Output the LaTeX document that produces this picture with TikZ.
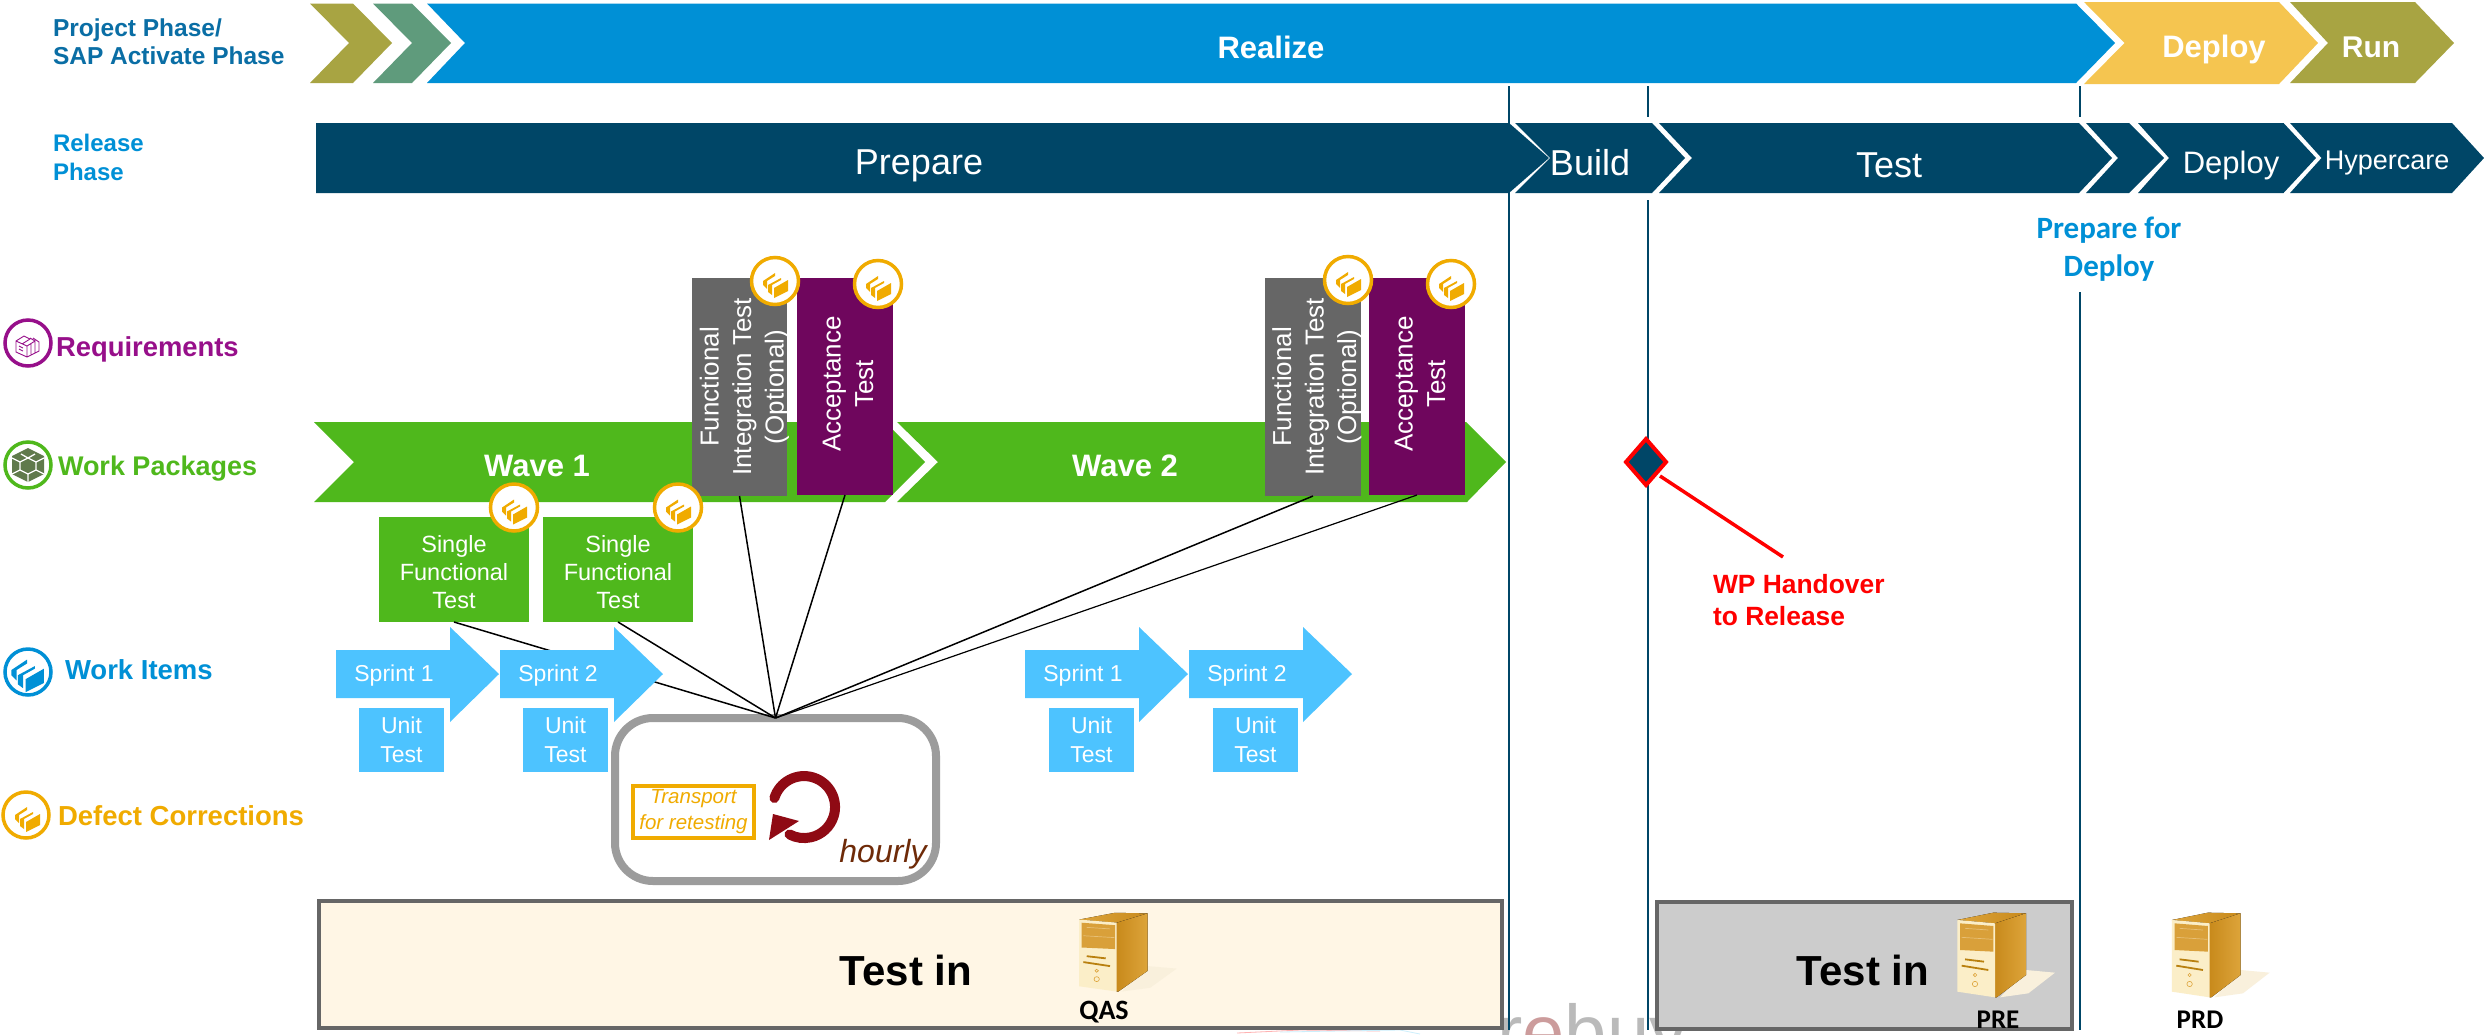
\documentclass[tikz,border=0pt]{standalone}
\usepackage{fontspec}
\usetikzlibrary{shapes.geometric}
\setmainfont{Liberation Sans}
\newfontfamily\carl{Carlito}
\definecolor{cBlue}{HTML}{0090D6}
\definecolor{cPhase}{HTML}{0A6EA5}
\definecolor{cYellow}{HTML}{F5C550}
\definecolor{cOlive}{HTML}{A8A442}
\definecolor{cTeal}{HTML}{5F9B7C}
\definecolor{cNavy}{HTML}{004667}
\definecolor{cGreen}{HTML}{4FB81C}
\definecolor{cPurple}{HTML}{6F065D}
\definecolor{cReq}{HTML}{970F8A}
\definecolor{cGrey}{HTML}{666666}
\definecolor{cSprint}{HTML}{4DC3FF}
\definecolor{cOrange}{HTML}{F0AB00}
\definecolor{cLoop}{HTML}{8F0A14}
\definecolor{cHourly}{HTML}{6E2A08}
\definecolor{cCream}{HTML}{FFF6E5}
\definecolor{cWP}{HTML}{607A4C}
\definecolor{cFront}{HTML}{FBEEC8}
\definecolor{cShadow}{HTML}{F9F0DC}
\definecolor{cGoldA}{HTML}{C88A1C}
\definecolor{cGoldB}{HTML}{DDA43A}
\definecolor{cGoldC}{HTML}{D9A03A}
\definecolor{cGoldD}{HTML}{B9800F}
\newcommand\fs[2]{\fontsize{#1}{#2}\selectfont}
\tikzset{
  lab/.style={inner sep=0pt,outer sep=0pt,align=center},
  lableft/.style={inner sep=0pt,outer sep=0pt,anchor=west,align=left},
  boxy/.style={inner sep=0pt,outer sep=0pt,draw=none,text=white,align=center},
  wlink/.style={draw=black,line width=1.5pt},
  vline/.style={draw=cNavy,line width=2pt},
  ring/.style={circle,fill=white,inner sep=0pt,outer sep=0pt,minimum size=46pt,line width=3.5pt},
  pics/sheets/.style={code={
    \fill[#1] (-1,7)--(13,-1)--(13,10)--(-1,17)--cycle;
    \fill[#1] (-7,4)--(6,-3)--(6,-1)--(-3,4)--(-3,14)--(-7,11)--cycle;
    \fill[#1] (-12,0)--(0,-8)--(0,-5)--(-8,0)--(-8,8)--(-12,4)--cycle;
  }},
  pics/server/.style={code={
    \fill[cShadow] (258,210)--(345,218)--(265,280)--(180,292)--cycle;
    \fill[left color=cGoldB,right color=cGoldA] (52,60)--(160,38)--(258,40)--(165,70)--cycle;
    \fill[left color=cGoldA,right color=cGoldB] (165,70)--(258,40)--(258,225)--(170,292)--(165,292)--cycle;
    \fill[cFront] (52,60)--(165,70)--(165,292)--(52,275)--cycle;
    \fill[cGoldC] (60,70)--(160,78)--(160,155)--(60,150)--cycle;
    \draw[cGoldB!70!white,line width=.7pt] (75,85)--(145,90) (65,112)--(158,118);
    \draw[cGoldD,line width=1.8pt] (75,178)--(132,185) (65,197)--(145,210);
    \draw[cGoldB,line width=.6pt] (105,225) circle[radius=5] (105,252) circle[radius=8];
  }}
}
\begin{document}
\begin{tikzpicture}[x=1pt,y=-1pt]
\useasboundingbox (0,0) rectangle (2484,1034);
\fill[white] (0,0) rectangle (2484,1034);
% watermark cut off by the lower edge
\begin{scope}
\clip (0,0) rectangle (2484,1034);
\node[inner sep=0pt,anchor=base west,text=black!27] (mark) at (1497,1058) {\fs{76}{80}r\textcolor[HTML]{CC9C9C}{e}buy};
\draw[red!30,line width=.8pt] (1237,1033)--(1300,1030)--(1380,1031);
\draw[cyan!20,line width=.8pt] (1280,1032)--(1400,1030)--(1420,1034);
\end{scope}
% vertical phase lines
\coordinate (v1a) at (1508.5,86); \coordinate (v1b) at (1508.5,1030);
\coordinate (v2a) at (1647.5,86); \coordinate (v2b) at (1647.5,117);
\coordinate (v2c) at (1647.5,200); \coordinate (v2d) at (1647.5,1030);
\coordinate (v3a) at (2080,86); \coordinate (v3b) at (2080,117);
\coordinate (v3c) at (2080,292); \coordinate (v3d) at (2080,1030);
\draw[vline] (v1a)--(v1b);
\draw[vline] (v2a)--(v2b);
\draw[vline] (v2c)--(v2d);
\draw[vline] (v3a)--(v3b);
\draw[vline] (v3c)--(v3d);
% project phase chevrons
\fill[cOlive] (310,3.5)--(353,3.5)--(392,43)--(353,83)--(310,83)--(349,43)--cycle;
\fill[cTeal] (373,3.5)--(412,3.5)--(451,43)--(412,83)--(373,83)--(412,43)--cycle;
\fill[cBlue] (427,3.5)--(2076,3.5)--(2115,43)--(2076,83)--(427,83)--(465,43)--cycle;
\fill[cYellow] (2084,2)--(2279,2)--(2318,43)--(2279,84)--(2084,84)--(2124.5,43)--cycle;
\fill[cOlive] (2290,2)--(2415,2)--(2454,43)--(2415,83)--(2290,83)--(2328,43)--cycle;
\node[lab,text=white,font=\bfseries\fs{31}{36}] (realize) at (1271,47) {Realize};
\node[lab,text=white,font=\bfseries\fs{31}{36}] (pdeploy) at (2214,49) {Deploy};
\node[lab,text=white,font=\bfseries\fs{30}{36}] (prun) at (2371,47) {Run};
% release chevrons
\fill[cNavy] (316,123)--(1509,123)--(1549,158)--(1509,193)--(316,193)--cycle;
\fill[cNavy] (1515,123)--(1652,123)--(1685,158)--(1652,193)--(1515,193)--(1550,158)--cycle;
\fill[cNavy] (1659,123)--(2079,123)--(2112,158)--(2079,193)--(1659,193)--(1692,158)--cycle;
\fill[cNavy] (2086,123)--(2129,123)--(2164,158)--(2129,193)--(2086,193)--(2118,158)--cycle;
\fill[cNavy] (2138,123)--(2283.5,123)--(2316,158)--(2283.5,193)--(2138,193)--(2169,158)--cycle;
\fill[cNavy] (2290,123)--(2452,123)--(2484,158)--(2452,193)--(2290,193)--(2321.5,158)--cycle;
\node[lab,text=white,font=\fs{36}{40}] (rprep) at (919,166) {Prepare};
\node[lab,text=white,font=\fs{36}{40}] (rbuild) at (1590,163) {Build};
\node[lab,text=white,font=\fs{36}{40}] (rtest) at (1889,165) {Test};
\node[lab,text=white,font=\fs{31}{36}] (rdeploy) at (2231,165) {Deploy};
\node[lab,text=white,font=\fs{27}{32}] (rhyper) at (2387,163) {Hypercare};
% left labels
\node[lableft,text=cPhase,font=\bfseries\fs{24.5}{28}] (lproj) at (53,42) {Project Phase/\\SAP Activate Phase};
\node[lableft,text=cBlue,font=\bfseries\fs{24}{29}] (lrel) at (53,157.5) {Release\\Phase};
\node[lab,text=cBlue,font=\carl\bfseries\fs{31}{38}] (lprep) at (2109,249.5) {Prepare for\\Deploy};
\node[ring,draw=cReq] (ireq) at (28,343) {};
\draw[cReq,line width=.9pt,line join=round,shift={(28,343)}]
  (-12,-2)--(-1,3)--(-1,14)--(-12,9)--cycle
  (-12,-2)--(-4,-7)--(2,-4)--(-6,1)
  (-1,3)--(7,-2)--(2,-5)
  (-1,14)--(11,8)--(11,-1)--(5,-5)
  (3,0)--(3,11) (7,-2)--(7,10)
  (-9,3)--(-5,5) (-9,6)--(-5,8);
\node[lableft,text=cReq,font=\bfseries\fs{27.4}{32}] (lreq) at (56,349) {Requirements};
\node[ring,draw=cGreen] (iwp) at (28,465) {};
\fill[cWP,shift={(28,465)}] (0,-17)--(16,-9)--(16,9)--(0,17)--(-16,9)--(-16,-9)--cycle;
\draw[white,line width=1.3pt,shift={(28,465)}] (0,-7)--(8,-3)--(8,5)--(0,9)--(-8,5)--(-8,-3)--cycle (0,-7)--(-7,-11) (0,-7)--(7,-11) (8,5)--(16,9) (-8,5)--(-16,9) (0,9)--(0,17) (8,-3)--(16,-7) (-8,-3)--(-16,-7);
\node[lableft,text=cGreen,font=\bfseries\fs{27}{32}] (lwp) at (58,469) {Work Packages};
\node[ring,draw=cBlue] (iwi) at (28,672) {};
\pic[scale=1.3] at (27,670) {sheets=cBlue};
\node[lableft,text=cBlue,font=\bfseries\fs{27.5}{32}] (lwi) at (65,670) {Work Items};
\node[ring,draw=cOrange] (idc) at (26,815) {};
\pic at (27,815) {sheets=cOrange};
\node[lableft,text=cOrange,font=\bfseries\fs{27.5}{32}] (ldc) at (58,816) {Defect Corrections};
% waves
\fill[cGreen] (314,422)--(885,422)--(925,462)--(885,502)--(314,502)--(354,462)--cycle;
\fill[cGreen] (897,422)--(1466,422)--(1506,462)--(1467,502)--(897,502)--(938,462)--cycle;
\node[lab,text=white,font=\bfseries\fs{31}{36}] (w1) at (537,466) {Wave 1};
\node[lab,text=white,font=\bfseries\fs{31}{36}] (w2) at (1125,466) {Wave 2};
% integration and acceptance boxes
\node[boxy,fill=cGrey,minimum width=95pt,minimum height=218pt] (fit1) at (739.5,387) {};
\node[boxy,fill=cPurple,minimum width=96pt,minimum height=217pt] (acc1) at (845,386.5) {};
\node[boxy,fill=cGrey,minimum width=96pt,minimum height=218pt] (fit2) at (1313,387) {};
\node[boxy,fill=cPurple,minimum width=96pt,minimum height=217pt] (acc2) at (1417,386.5) {};
\node[lab,text=white,rotate=90,font=\fs{26}{32.5}] (fit1t) at (744.5,387) {Functional\\Integration Test\\(Optional)};
\node[lab,text=white,rotate=90,font=\fs{26}{32.5}] (acc1t) at (848,384) {Acceptance\\Test};
\node[lab,text=white,rotate=90,font=\fs{26}{32.5}] (fit2t) at (1317,387) {Functional\\Integration Test\\(Optional)};
\node[lab,text=white,rotate=90,font=\fs{26}{32.5}] (acc2t) at (1420,384) {Acceptance\\Test};
% single functional tests
\node[boxy,fill=cGreen,minimum width=150pt,minimum height=105pt] (sft1) at (454,569.5) {};
\node[boxy,fill=cGreen,minimum width=150pt,minimum height=105pt] (sft2) at (618,569.5) {};
\node[lab,text=white,font=\fs{23.5}{28}] (sft1t) at (454,572) {Single\\Functional\\Test};
\node[lab,text=white,font=\fs{23.5}{28}] (sft2t) at (618,572) {Single\\Functional\\Test};
% orange badges
\foreach \n/\x/\y in {bf1/775/281,ba1/878/284,bf2/1348/280,ba2/1451/284,bs1/514/507.5,bs2/678/507.5}{
  \node[ring,draw=cOrange,minimum size=47pt] (\n) at (\x,\y) {};
  \pic at (\x,\y) {sheets=cOrange};
}
% transport loop box
\node[draw=black!39,fill=white,line width=8pt,rounded corners=38pt,minimum width=321pt,minimum height=163pt,inner sep=0pt,outer sep=0pt] (loop) at (775.5,799.5) {};
\node[draw=cOrange,line width=3.5pt,minimum width=121pt,minimum height=52pt,inner sep=0pt,outer sep=0pt,text=cOrange,align=center,font=\itshape\fs{20.5}{26}] (transp) at (693.5,812) {Transport\\for retesting};
\coordinate (arcstart) at (774.4,798);
\draw[cLoop,line width=10pt,line cap=round] (arcstart) arc[start angle=163,end angle=-118,radius=31pt];
\fill[cLoop] (773,814)--(799,821)--(769,840)--cycle;
\node[lab,text=cHourly,font=\itshape\fs{32}{36}] (hourly) at (883,854.5) {hourly};
% links to the loop box
\draw[wlink] (sft1.south)--(loop.north);
\draw[wlink] (sft2.south)--(loop.north);
\draw[wlink] (fit1.south)--(loop.north);
\draw[wlink] (acc1.south)--(loop.north);
\draw[wlink] (fit2.south)--(loop.north);
\draw[wlink,line width=1.2pt] (acc2.south)--(loop.north);
% sprints
\foreach \x/\n/\t in {336/s11/Sprint 1,500/s12/Sprint 2,1025/s21/Sprint 1,1189/s22/Sprint 2}{
  \fill[cSprint] (\x,650)--(\x+114,650)--(\x+114,627)--(\x+163,674)--(\x+114,722)--(\x+114,698)--(\x,698)--cycle;
  \node[lab,text=white,font=\fs{23}{28}] (\n) at (\x+58,676) {\t};
}
\node[boxy,fill=cSprint,minimum width=85pt,minimum height=64pt,font=\fs{23}{29}] (u11) at (401.5,740) {Unit\\Test};
\node[boxy,fill=cSprint,minimum width=85pt,minimum height=64pt,font=\fs{23}{29}] (u12) at (565.5,740) {Unit\\Test};
\node[boxy,fill=cSprint,minimum width=85pt,minimum height=64pt,font=\fs{23}{29}] (u21) at (1091.5,740) {Unit\\Test};
\node[boxy,fill=cSprint,minimum width=85pt,minimum height=64pt,font=\fs{23}{29}] (u22) at (1255.5,740) {Unit\\Test};
% handover
\node[diamond,draw=red,fill=cNavy,line width=4pt,inner sep=0pt,outer sep=0pt,minimum width=40pt,minimum height=46pt] (hand) at (1646,462) {};
\coordinate (hand2) at (1783,557);
\draw[red,line width=3.5pt] (1660,476)--(hand2);
\node[lableft,text=red,font=\bfseries\fs{26.4}{32}] (handt) at (1713,600) {WP Handover\\to Release};
% test systems
\node[draw=cGrey,fill=cCream,line width=4pt,minimum width=1183pt,minimum height=127pt,inner sep=0pt,outer sep=0pt] (tq) at (910.5,964.5) {};
\node[draw=cGrey,fill=black!20,line width=4pt,minimum width=415pt,minimum height=127pt,inner sep=0pt,outer sep=0pt] (tp) at (1864.5,965.5) {};
\node[lab,font=\bfseries\fs{42}{46}] (tqt) at (906,970) {Test in};
\node[lab,font=\bfseries\fs{42}{46}] (tpt) at (1863,970) {Test in};
\pic[xscale=.3333,yscale=.31] at (1061.7,901) {server};
\pic[xscale=.3333,yscale=.3333] at (1940,900) {server};
\pic[xscale=.3333,yscale=.3333] at (2154.6,900) {server};
\node[lab,font=\carl\bfseries\fs{28}{32}] (qas) at (1104,1012) {QAS};
\node[lab,font=\carl\bfseries\fs{27}{32}] (pre) at (1998,1020) {PRE};
\node[lab,font=\carl\bfseries\fs{27}{32}] (prd) at (2200,1020) {PRD};
\end{tikzpicture}
\end{document}
